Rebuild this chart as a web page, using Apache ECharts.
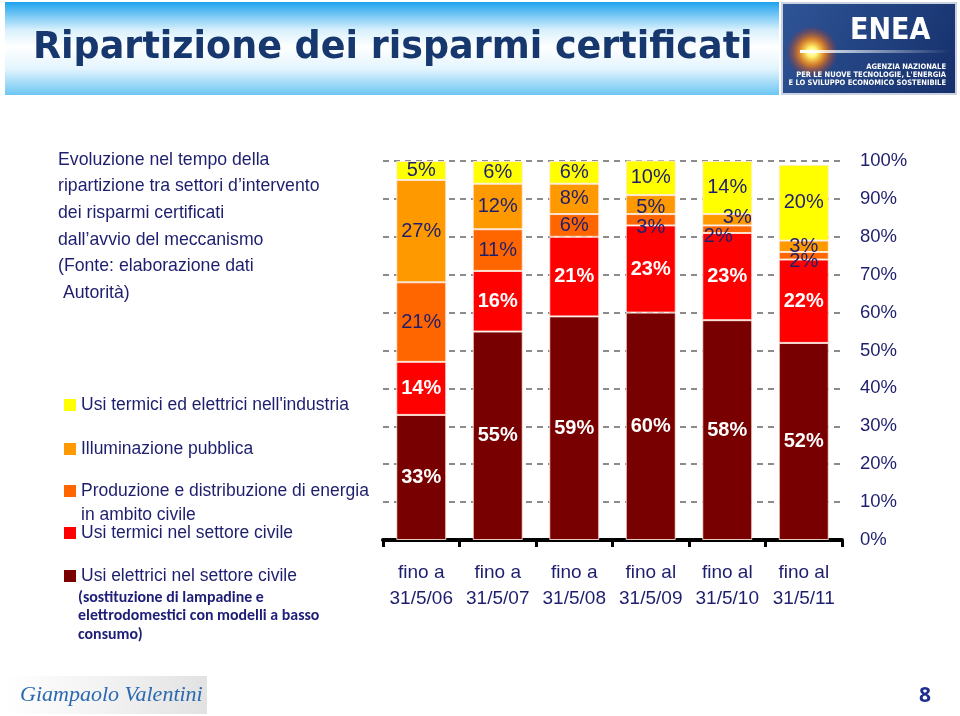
<!DOCTYPE html>
<html>
<head>
<meta charset="utf-8">
<script src="https://cdn.jsdelivr.net/npm/echarts@6/dist/echarts.min.js"></script>
<style>
html,body{margin:0;padding:0;background:#fff;}
#chart{width:960px;height:716px;}
</style>
</head>
<body>
<div id="chart"></div>
<script>
// ---- data ----
const categories = ['fino a\n31/5/06', 'fino a\n31/5/07', 'fino a\n31/5/08', 'fino al\n31/5/09', 'fino al\n31/5/10', 'fino al\n31/5/11'];
const seriesNames = [
  'Usi elettrici nel settore civile',
  'Usi termici nel settore civile',
  'Produzione e distribuzione di energia in ambito civile',
  'Illuminazione pubblica',
  "Usi termici ed elettrici nell'industria"
];
const usiElettriciCivile = [33, 55, 59, 60, 58, 52];
const usiTermiciCivile   = [14, 16, 21, 23, 23, 22];
const produzioneEnergia  = [21, 11, 6, 3, 2, 2];
const illuminazione      = [27, 12, 8, 5, 3, 3];
const industria          = [5, 6, 6, 10, 14, 20];
const yTickValues = [0, 10, 20, 30, 40, 50, 60, 70, 80, 90, 100];

// ---- styles ----
const ARIAL = "'Liberation Sans',Arial,sans-serif";
const NAVY = '#1e1e6e';
const colors = ['#780000', '#ff0000', '#ff6600', '#ff9900', '#ffff00'];
const labelColors = ['#ffffff', '#ffffff', NAVY, NAVY, NAVY];
const labelWeights = ['bold', 'bold', 'normal', 'normal', 'normal'];
// per-point label nudges (series index -> data index -> [dx, dy])
const labelNudges = {
  2: {3: [0, 8], 4: [-9, 7], 5: [0, 6]},
  3: {3: [0, 3], 4: [10, -2]}
};

const allValues = [usiElettriciCivile, usiTermiciCivile, produzioneEnergia, illuminazione, industria];

const series = allValues.map((vals, si) => ({
  name: seriesNames[si],
  type: 'bar',
  stack: 'total',
  barWidth: 50,
  itemStyle: {color: colors[si], borderColor: 'rgba(255,235,225,0.85)', borderWidth: 1},
  label: {
    show: true, position: 'inside', formatter: '{c}%',
    color: labelColors[si], fontFamily: ARIAL, fontSize: 20, fontWeight: labelWeights[si]
  },
  data: vals.map((v, di) => {
    const n = labelNudges[si] && labelNudges[si][di];
    return n ? {value: v, label: {offset: n}} : v;
  })
}));

const legendCentres = [405, 449, 491, 533, 576]; // icon centres
const legendOrder = [4, 3, 2, 1, 0];
const legends = legendOrder.map((si, k) => {
  const multi = si === 2;
  return {
    data: [seriesNames[si]],
    orient: 'vertical',
    left: 64,
    top: multi ? legendCentres[k] - 36 : legendCentres[k] - 12,
    padding: 0,
    itemWidth: 12, itemHeight: 12,
    icon: 'rect',
    itemStyle: {borderWidth: 0},
    selectedMode: false,
    formatter: multi ? '\nProduzione e distribuzione di energia\nin ambito civile' : '{name}',
    textStyle: {color: NAVY, fontFamily: ARIAL, fontSize: 17.5, lineHeight: 24}
  };
});

const chart = echarts.init(document.getElementById('chart'), null, {renderer: 'canvas'});
chart.setOption({
  backgroundColor: '#ffffff',
  animation: false,
  color: colors,
  legend: legends,
  grid: {left: 383, top: 161, width: 459, height: 379, containLabel: false},
  xAxis: {
    type: 'category',
    data: categories,
    axisLine: {lineStyle: {color: '#000', width: 4}},
    axisTick: {show: true, length: 7, lineStyle: {color: '#000', width: 3}},
    axisLabel: {interval: 0, color: NAVY, fontFamily: ARIAL, fontSize: 19, lineHeight: 26, margin: 20}
  },
  yAxis: {
    type: 'value',
    position: 'right',
    min: yTickValues[0], max: yTickValues[yTickValues.length - 1], interval: 10,
    axisLine: {show: false},
    axisTick: {show: false},
    axisLabel: {color: NAVY, fontFamily: ARIAL, fontSize: 18.5, margin: 18, formatter: '{value}%'},
    splitLine: {show: true, lineStyle: {color: '#666', width: 1.5, type: [6, 5]}}
  },
  series: series,
  graphic: [
    // header band
    {type: 'rect', z: 0, shape: {x: 5, y: 2, width: 774, height: 93},
      style: {fill: new echarts.graphic.LinearGradient(0, 0, 0, 1, [
        {offset: 0, color: '#1ea3ee'}, {offset: 0.3, color: '#d8f0fc'},
        {offset: 0.48, color: '#ffffff'}, {offset: 0.72, color: '#e3f4fd'},
        {offset: 1, color: '#6cc6f3'}])}},
    {type: 'text', z: 2, x: 33, y: 48.5,
      style: {text: 'Ripartizione dei risparmi certificati', fill: '#17386e', verticalAlign: 'middle',
        font: "bold 36.5px 'DejaVu Sans',sans-serif"}},
    // ENEA logo
    {type: 'rect', z: 1, shape: {x: 782, y: 3, width: 174, height: 91},
      style: {fill: new echarts.graphic.LinearGradient(0, 0, 1, 1, [
        {offset: 0, color: '#2f5597'}, {offset: 1, color: '#152f6a'}]), stroke: '#c9d2de', lineWidth: 2}},
    {type: 'circle', z: 2, shape: {cx: 812, cy: 52, r: 26},
      style: {fill: new echarts.graphic.RadialGradient(0.5, 0.5, 0.5, [
        {offset: 0, color: '#ffffff'}, {offset: 0.2, color: '#fff36a'},
        {offset: 0.5, color: 'rgba(255,140,20,0.8)'}, {offset: 1, color: 'rgba(200,40,20,0)'}])}},
    {type: 'rect', z: 2, shape: {x: 800, y: 50, width: 150, height: 3},
      style: {fill: new echarts.graphic.LinearGradient(0, 0, 1, 0, [
        {offset: 0, color: 'rgba(255,255,255,0.95)'}, {offset: 1, color: 'rgba(255,255,255,0)'}])}},
    {type: 'text', z: 3, x: 850, y: 16,
      style: {text: 'ENEA', fill: '#ffffff', font: "bold 30px 'DejaVu Sans Condensed',sans-serif"}},
    {type: 'text', z: 3, x: 946, y: 63,
      style: {text: 'AGENZIA NAZIONALE', fill: '#ffffff', align: 'right',
        font: "bold 7.5px 'DejaVu Sans Condensed',sans-serif"}},
    {type: 'text', z: 3, x: 946, y: 71,
      style: {text: "PER LE NUOVE TECNOLOGIE, L'ENERGIA", fill: '#ffffff', align: 'right',
        font: "bold 7.5px 'DejaVu Sans Condensed',sans-serif"}},
    {type: 'text', z: 3, x: 946, y: 79,
      style: {text: 'E LO SVILUPPO ECONOMICO SOSTENIBILE', fill: '#ffffff', align: 'right',
        font: "bold 7.5px 'DejaVu Sans Condensed',sans-serif"}},
    // description
    {type: 'text', x: 58, y: 146.7,
      style: {text: "Evoluzione nel tempo della\nripartizione tra settori d\u2019intervento\ndei risparmi certificati\ndall\u2019avvio del meccanismo\n(Fonte: elaborazione dati\n Autorit\u00e0)",
        fill: NAVY, fontFamily: ARIAL, fontSize: 17.7, lineHeight: 26.6}},
    // legend note
    {type: 'text', x: 78, y: 588.5,
      style: {text: '(sostituzione di lampadine e\nelettrodomestici con modelli a basso\nconsumo)',
        fill: '#1e1e78', fontFamily: "Carlito,Lato,'Open Sans',sans-serif", fontWeight: 'bold', fontSize: 15.9, lineHeight: 18.5}},
    // footer logo
    {type: 'rect', shape: {x: 5, y: 676, width: 202, height: 38},
      style: {fill: new echarts.graphic.LinearGradient(0, 0, 1, 0, [
        {offset: 0, color: '#ffffff'}, {offset: 0.5, color: '#f2f2f2'}, {offset: 1, color: '#e2e2e2'}])}},
    {type: 'text', x: 20, y: 695,
      style: {text: 'Giampaolo Valentini', fill: '#2a68b0', verticalAlign: 'middle',
        font: "italic 22px 'Liberation Serif',serif"}},
    // page number
    {type: 'text', x: 919, y: 686,
      style: {text: '8', fill: '#1f2c8f', font: "bold 21px 'Open Sans',sans-serif"}}
  ]
});
</script>
</body>
</html>
